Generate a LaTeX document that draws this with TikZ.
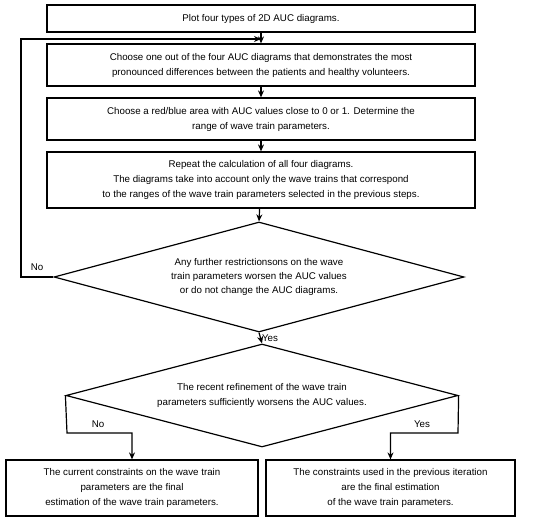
\documentclass[tikz,border=0pt]{standalone}
\usepackage{fontspec}
\setmainfont{Liberation Sans}
\usetikzlibrary{shapes.geometric,arrows.meta}
\begin{document}
\begin{tikzpicture}[x=1bp,y=-1bp,
  every node/.style={font=\fontsize{9.75bp}{15bp}\selectfont},
  box/.style={draw,line width=1.2bp,rectangle,inner sep=0pt,align=center},
  dia/.style={draw,line width=1.2bp,diamond,inner sep=0pt,aspect=3.7,align=center},
  conn/.style={line width=1.2bp},
  arr/.style={conn,-{Stealth[length=7bp,width=6bp]}},
  lbl/.style={inner sep=0pt}]
\useasboundingbox (0,0) rectangle (550,524);
\node[box,minimum width=428bp,minimum height=27bp] (b1) at (261,18.5) {Plot four types of 2D AUC diagrams.};
\node[box,minimum width=428bp,minimum height=42bp] (b2) at (261,65) {Choose one out of the four AUC diagrams that demonstrates the most\\pronounced differences between the patients and healthy volunteers.};
\node[box,minimum width=428bp,minimum height=42bp] (b3) at (261,119) {Choose a red/blue area with AUC values close to 0 or 1. Determine the\\range of wave train parameters.};
\node[box,minimum width=428bp,minimum height=56bp] (b4) at (261,180) {Repeat the calculation of all four diagrams.\\The diagrams take into account only the wave trains that correspond\\to the ranges of the wave train parameters selected in the previous steps.};
\node[dia,minimum width=410bp,minimum height=110bp,font=\fontsize{9.75bp}{14bp}\selectfont] (d1) at (259,277) {Any further restrictionsons on the wave\\train parameters worsen the AUC values\\or do not change the AUC diagrams.};
\node[dia,minimum width=392bp,minimum height=103bp] (d2) at (262,395.5) {The recent refinement of the wave train\\parameters sufficiently worsens the AUC values.};
\node[box,minimum width=252bp,minimum height=56bp] (b5) at (132,488) {The current constraints on the wave train\\parameters are the final\\estimation of the wave train parameters.};
\node[box,minimum width=249bp,minimum height=56bp] (b6) at (390.5,488) {The constraints used in the previous iteration\\are the final estimation\\of the wave train parameters.};
\coordinate (m) at (b1.south |- 0,39);
\coordinate (l1) at (21,277);
\coordinate (l2) at (21,39);
\coordinate (p1) at (67,433);
\coordinate (p2) at (458,433);
\draw[arr] (b1) -- (b2);
\draw[arr] (d1.west) -- (l1) -- (l2) -- (m);
\draw[arr] (b2) -- (b3);
\draw[arr] (b3) -- (b4);
\draw[arr] (b4) -- (d1.north);
\draw[arr] (d1.south) -- node[lbl,right,xshift=1bp] {Yes} (d2.north);
\draw[arr] (d2.west) -- (p1) -| (b5.north);
\draw[arr] (d2.east) -- (p2) -| (b6.north);
\node[lbl] (no1) at (37,267) {No};
\node[lbl] (no2) at (98,424) {No};
\node[lbl] (yes2) at (422,424) {Yes};
\end{tikzpicture}
\end{document}
